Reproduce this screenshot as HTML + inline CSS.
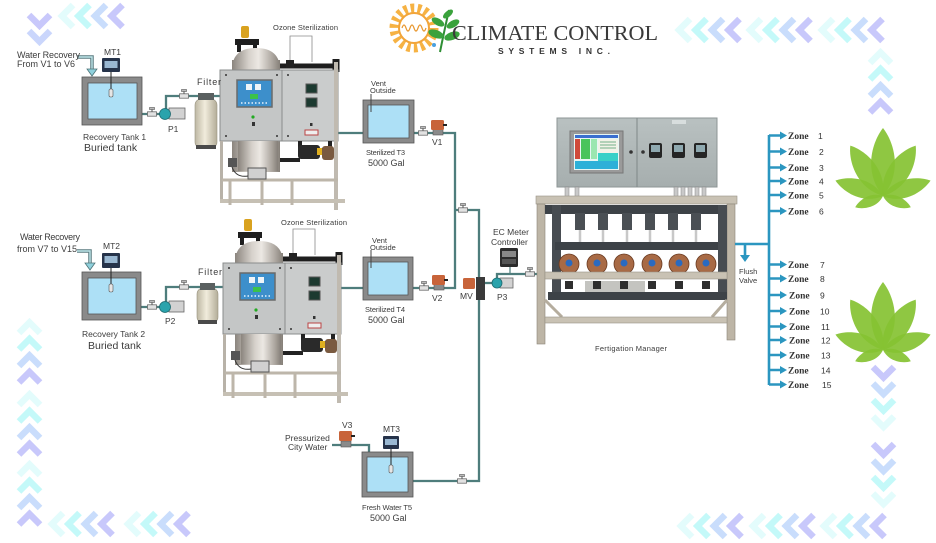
<!DOCTYPE html>
<html><head><meta charset="utf-8"><style>
html,body{margin:0;padding:0;background:#fff;}
svg{display:block}
text{font-family:"Liberation Sans",sans-serif;fill:#3c3c3c}
.z{font-family:"Liberation Serif",serif;font-weight:bold;font-size:9.5px;fill:#333}
.n{font-size:8.5px;fill:#333}
</style></head><body>
<svg width="936" height="543" viewBox="0 0 936 543" xmlns="http://www.w3.org/2000/svg">
<defs>
 <linearGradient id="steel" x1="0" x2="1" y1="0" y2="0">
  <stop offset="0" stop-color="#8b857e"/><stop offset="0.35" stop-color="#d6d1cb"/>
  <stop offset="0.55" stop-color="#ece8e3"/><stop offset="0.85" stop-color="#aba59e"/>
  <stop offset="1" stop-color="#857f78"/>
 </linearGradient>
 <linearGradient id="filt" x1="0" x2="1" y1="0" y2="0">
  <stop offset="0" stop-color="#bdb7a3"/><stop offset="0.45" stop-color="#f1ecdc"/>
  <stop offset="1" stop-color="#b3ad99"/>
 </linearGradient>
 <linearGradient id="boxg" x1="0" x2="0" y1="0" y2="1">
  <stop offset="0" stop-color="#b9c1c1"/><stop offset="1" stop-color="#a6aeae"/>
 </linearGradient>
 <g id="cl" fill="none" stroke-width="6.5">
  <polyline points="13,2 2,13 13,24" stroke="#e3fcfc"/>
  <polyline points="29.5,2 18.5,13 29.5,24" stroke="#c4f9f9"/>
  <polyline points="46,2 35,13 46,24" stroke="#c9ddfc"/>
  <polyline points="62.5,2 51.5,13 62.5,24" stroke="#c8c8fb"/>
 </g>
 <g id="cu" fill="none" stroke-width="6.5">
  <polyline points="2,13 12.5,2.5 23,13" stroke="#e3fcfc"/>
  <polyline points="2,29.5 12.5,19 23,29.5" stroke="#c4f9f9"/>
  <polyline points="2,46 12.5,35.5 23,46" stroke="#c9ddfc"/>
  <polyline points="2,62.5 12.5,52 23,62.5" stroke="#c8c8fb"/>
 </g>
 <g id="cd" fill="none" stroke-width="6.5">
  <polyline points="2,2 12.5,12.5 23,2" stroke="#c8c8fb"/>
  <polyline points="2,18.5 12.5,29 23,18.5" stroke="#c9ddfc"/>
  <polyline points="2,35 12.5,45.5 23,35" stroke="#c4f9f9"/>
  <polyline points="2,51.5 12.5,62 23,51.5" stroke="#e3fcfc"/>
 </g>
 <g id="valve">
  <rect x="-4.5" y="-2.2" width="9" height="4.4" fill="#e2e2e2" stroke="#6a6a6a" stroke-width="0.8"/>
  <path d="M0 -2.2 V-5" stroke="#555" stroke-width="1"/>
  <rect x="-2.5" y="-6.5" width="5" height="2" fill="#bbb" stroke="#555" stroke-width="0.6"/>
 </g>
 <g id="leaf" fill="#86c232" fill-opacity="0.92">
  <path d="M0 0 C20 -24 11 -54 0 -68 C-11 -54 -20 -24 0 0Z"/>
  <path transform="rotate(33)" d="M0 0 C18 -21 10 -48 0 -60 C-10 -48 -18 -21 0 0Z"/>
  <path transform="rotate(-33)" d="M0 0 C18 -21 10 -48 0 -60 C-10 -48 -18 -21 0 0Z"/>
  <path transform="rotate(72)" d="M0 0 C15 -17 8 -40 0 -50 C-8 -40 -15 -17 0 0Z"/>
  <path transform="rotate(-72)" d="M0 0 C15 -17 8 -40 0 -50 C-8 -40 -15 -17 0 0Z"/>
  <path transform="rotate(112)" d="M0 0 C9 -10 5 -24 0 -30 C-5 -24 -9 -10 0 0Z"/>
  <path transform="rotate(-112)" d="M0 0 C9 -10 5 -24 0 -30 C-5 -24 -9 -10 0 0Z"/>
 </g>
 <g id="ozone">
  <rect x="241" y="26" width="8" height="12" rx="2" fill="#d9a21f"/>
  <path d="M235 42 h24" stroke="#1e1e1e" stroke-width="6"/>
  <path d="M239 42 v10 M255 42 v10" stroke="#1e1e1e" stroke-width="4"/>
  <path d="M232 70 Q232 48 256 48 Q280 48 280 70 Z" fill="url(#steel)"/>
  <rect x="232" y="60" width="48" height="112" fill="url(#steel)"/>
  <path d="M280 66 H338" stroke="#1e1e1e" stroke-width="5"/>
  <path d="M336 59 v13" stroke="#1e1e1e" stroke-width="7"/>
  <rect x="286" y="60" width="8" height="8" fill="#222"/>
  <path d="M290 60 V36 H312 V62" stroke="#8a8a8a" stroke-width="0.8" fill="none"/>
  <rect x="220" y="70" width="62" height="71" fill="#c4c6c6" stroke="#8a8c8c"/>
  <rect x="282" y="70" width="56" height="71" fill="#cacccc" stroke="#8a8c8c"/>
  <rect x="237" y="80" width="35" height="27" fill="#3d8fcb" stroke="#6a6a6a" stroke-width="1.5"/>
  <rect x="246" y="84" width="6" height="6" fill="#eef4f8"/><rect x="255" y="84" width="6" height="6" fill="#eef4f8"/>
  <rect x="250" y="94" width="8" height="5" fill="#3bc24a"/>
  <path d="M241 103 H268" stroke="#e8f4ff" stroke-width="1.5" stroke-dasharray="1.5 2"/>
  <circle cx="253" cy="117" r="1.6" fill="#2a2"/>
  <rect x="252" y="122" width="3" height="4" fill="#333"/>
  <rect x="306" y="84" width="11" height="9" fill="#1c3a30" stroke="#555"/>
  <rect x="306" y="98" width="11" height="9" fill="#1c3a30" stroke="#555"/>
  <rect x="310" y="123" width="2.5" height="3" fill="#333"/>
  <rect x="305" y="130" width="13" height="5" fill="#eee" stroke="#b44"/>
  <g fill="#333"><circle cx="226" cy="75" r="1"/><circle cx="277" cy="75" r="1"/><circle cx="226" cy="136" r="1"/><circle cx="277" cy="136" r="1"/><circle cx="288" cy="75" r="1"/><circle cx="288" cy="136" r="1"/></g>
  <rect x="238" y="141" width="40" height="30" fill="url(#steel)"/>
  <rect x="220" y="141" width="3" height="62" fill="#b8b2a8"/>
  <rect x="334" y="62" width="4" height="148" fill="#c0bab0"/>
  <path d="M222 180 H338" stroke="#bdb6aa" stroke-width="3"/>
  <path d="M220 201 H345" stroke="#c6c0b4" stroke-width="4"/>
  <path d="M230 180 V205 M262 180 V205 M292 180 V205" stroke="#bdb6aa" stroke-width="3"/>
  <path d="M300 141 V150 H330 V141" stroke="#222" stroke-width="4" fill="none"/>
  <rect x="298" y="145" width="22" height="14" rx="3" fill="#2a2a2a"/>
  <rect x="317" y="148" width="5" height="7" fill="#e0b020"/>
  <rect x="322" y="146" width="12" height="14" rx="3" fill="#7a5a40"/>
  <path d="M280 160 H300" stroke="#222" stroke-width="4"/>
  <rect x="248" y="168" width="18" height="11" fill="#d0d0d0" stroke="#555"/>
  <rect x="228" y="158" width="9" height="9" fill="#555"/>
  <path d="M232 167 Q236 178 248 176" stroke="#333" fill="none"/>
 </g>
</defs>

<!-- decorative chevrons -->
<use href="#cl" x="60" y="3"/>
<use href="#cl" x="677" y="17"/><use href="#cl" x="748" y="17"/><use href="#cl" x="820" y="17"/>
<use href="#cl" x="50" y="511"/><use href="#cl" x="126" y="511"/>
<use href="#cl" x="679" y="513"/><use href="#cl" x="751" y="513"/><use href="#cl" x="822" y="513"/>
<use href="#cu" x="17" y="320"/><use href="#cu" x="17" y="392"/><use href="#cu" x="17" y="462"/>
<use href="#cu" x="868" y="50"/>
<use href="#cd" x="871" y="365"/><use href="#cd" x="871" y="442"/>
<g fill="none" stroke-width="6.5">
 <polyline points="29,15 39.5,25.5 50,15" stroke="#c8c8fb"/>
 <polyline points="29,31 39.5,41.5 50,31" stroke="#cad6fc"/>
</g>

<!-- logo -->
<circle cx="414" cy="28" r="20" fill="none" stroke="#f6b243" stroke-width="9" stroke-dasharray="3.6 3.38"/>
<circle cx="414" cy="28" r="15" fill="#fff" stroke="#f2a53a" stroke-width="2"/>
<path d="M402 28 q2 -6 4 0 t4 0 t4 0 t4 0 t4 0 t4 0" stroke="#e8962c" stroke-width="1.2" fill="none"/>
<path d="M440 52 Q444 32 449 10" stroke="#2f8f35" stroke-width="2" fill="none"/>
<g fill="#3aa23c">
 <ellipse cx="448" cy="14" rx="6" ry="3" transform="rotate(-40 448 14)"/>
 <ellipse cx="438" cy="22" rx="7" ry="3.5" transform="rotate(30 438 22)"/>
 <ellipse cx="453" cy="24" rx="7" ry="3.5" transform="rotate(-30 453 24)"/>
 <ellipse cx="436" cy="34" rx="8" ry="4" transform="rotate(20 436 34)"/>
 <ellipse cx="452" cy="36" rx="8" ry="4" transform="rotate(-20 452 36)"/>
</g>
<circle cx="434" cy="45" r="2" fill="#4aa0e0"/>
<text x="452" y="40" style="font-family:'Liberation Serif',serif;font-size:21px;fill:#3a3a3a" textLength="206" lengthAdjust="spacingAndGlyphs">CLIMATE CONTROL</text>
<text x="498" y="54" style="font-size:8.5px;font-weight:bold;fill:#333" textLength="112" lengthAdjust="spacing">SYSTEMS INC.</text>

<!-- pipes -->
<g stroke="#4e7d7c" stroke-width="2.3" fill="none">
 <path d="M142 114 H160"/>
 <path d="M166 109 V96 H228"/>
 <path d="M338 133 H363"/>
 <path d="M414 133 H455 V288 H413"/>
 <path d="M455 210 H479 V481 H413"/>
 <path d="M485 283 H493"/>
 <path d="M497 278 V274 H540"/>
 <path d="M332 445 H369 V452"/>
 <path d="M141 307 H160"/>
 <path d="M166 302 V287 H226"/>
 <path d="M341 288 H363"/>
 <path d="M510 267 V274" stroke-width="1.2"/>
</g>
<g fill="none" stroke-linejoin="miter">
 <path d="M77 57 H92 V70" stroke="#5c7c80" stroke-width="3.5"/>
 <path d="M77 57 H92 V70" stroke="#bfe6ea" stroke-width="1.4"/>
 <path d="M77 251 H90 V264" stroke="#5c7c80" stroke-width="3.5"/>
 <path d="M77 251 H90 V264" stroke="#bfe6ea" stroke-width="1.4"/>
</g>
<polygon points="87,69 97,69 92,76" fill="#8fd0dc" stroke="#4f7478" stroke-width="0.8"/>
<polygon points="85,263 95,263 90,270" fill="#8fd0dc" stroke="#4f7478" stroke-width="0.8"/>

<!-- valves -->
<use href="#valve" x="423" y="133"/><use href="#valve" x="424" y="288"/>
<use href="#valve" x="463" y="210"/><use href="#valve" x="462" y="481"/>
<use href="#valve" x="152" y="114"/><use href="#valve" x="184" y="96"/>
<use href="#valve" x="152" y="307"/><use href="#valve" x="184" y="287"/>
<use href="#valve" x="530" y="274"/>

<!-- tanks -->
<g stroke="#555" stroke-width="0.8">
 <rect x="82" y="77" width="60" height="48" fill="#8a8a8a"/>
 <rect x="88" y="83" width="49" height="36" fill="#ade0f6"/>
 <rect x="82" y="272" width="59" height="48" fill="#8a8a8a"/>
 <rect x="88" y="278" width="48" height="36" fill="#ade0f6"/>
 <rect x="363" y="100" width="51" height="43" fill="#8a8a8a"/>
 <rect x="368" y="105" width="41" height="33" fill="#ade0f6"/>
 <rect x="363" y="257" width="50" height="43" fill="#8a8a8a"/>
 <rect x="368" y="262" width="40" height="33" fill="#ade0f6"/>
 <rect x="362" y="452" width="51" height="45" fill="#8a8a8a"/>
 <rect x="367" y="457" width="41" height="35" fill="#ade0f6"/>
</g>
<path d="M371 94 V112 M371 250 V268" stroke="#444" stroke-width="1"/>
<g>
 <rect x="102" y="58" width="18" height="14" rx="1" fill="#26334a"/>
 <rect x="104.5" y="61" width="13" height="7" fill="#9ab8d2"/>
 <path d="M111 72 V90" stroke="#222" stroke-width="1"/>
 <rect x="109" y="89" width="4" height="8" rx="1.5" fill="#e6e6e6" stroke="#555" stroke-width="0.6"/>
 <rect x="102" y="253" width="18" height="15" rx="1" fill="#26334a"/>
 <rect x="104.5" y="256" width="13" height="7" fill="#9ab8d2"/>
 <path d="M111 268 V285" stroke="#222" stroke-width="1"/>
 <rect x="109" y="284" width="4" height="8" rx="1.5" fill="#e6e6e6" stroke="#555" stroke-width="0.6"/>
 <rect x="383" y="436" width="16" height="13" rx="1" fill="#26334a"/>
 <rect x="385" y="439" width="12" height="6" fill="#9ab8d2"/>
 <path d="M391 449 V466" stroke="#222" stroke-width="1"/>
 <rect x="389" y="465" width="4" height="8" rx="1.5" fill="#e6e6e6" stroke="#555" stroke-width="0.6"/>
 <rect x="500" y="248" width="18" height="19" rx="1.5" fill="#2c2c2c"/>
 <rect x="502" y="251" width="14" height="6" fill="#888"/>
 <rect x="502" y="259" width="14" height="5" fill="#555"/>
</g>
<g>
 <rect x="169" y="108" width="16" height="11" fill="#d2d2d2" stroke="#666" stroke-width="0.8"/>
 <circle cx="165" cy="114" r="5.5" fill="#2aa3ac" stroke="#1d6a70" stroke-width="0.8"/>
 <rect x="169" y="301" width="15" height="11" fill="#d2d2d2" stroke="#666" stroke-width="0.8"/>
 <circle cx="165" cy="307" r="5.5" fill="#2aa3ac" stroke="#1d6a70" stroke-width="0.8"/>
 <rect x="500" y="278" width="13" height="10" fill="#d2d2d2" stroke="#666" stroke-width="0.8"/>
 <circle cx="497" cy="283" r="5" fill="#2aa3ac" stroke="#1d6a70" stroke-width="0.8"/>
</g>
<g>
 <rect x="433" y="129" width="10" height="6" fill="#8a8a8a" stroke="#555" stroke-width="0.6"/>
 <rect x="431" y="120" width="13" height="10" rx="1.5" fill="#c8643a"/>
 <rect x="443" y="124" width="4" height="2" fill="#222"/>
 <rect x="434" y="284" width="10" height="6" fill="#8a8a8a" stroke="#555" stroke-width="0.6"/>
 <rect x="432" y="275" width="13" height="10" rx="1.5" fill="#c8643a"/>
 <rect x="444" y="279" width="4" height="2" fill="#222"/>
 <rect x="463" y="278" width="12" height="11" rx="1.5" fill="#c8643a"/>
 <rect x="476" y="277" width="9" height="23" fill="#3a3a3a"/>
 <rect x="341" y="441" width="10" height="6" fill="#8a8a8a" stroke="#555" stroke-width="0.6"/>
 <rect x="339" y="431" width="13" height="10" rx="1.5" fill="#c8643a"/>
 <rect x="351" y="435" width="4" height="2" fill="#222"/>
</g>
<rect x="195" y="99" width="22" height="49" rx="6" fill="url(#filt)" stroke="#9a9480" stroke-width="0.6"/>
<rect x="198" y="93" width="16" height="7" fill="#5a6060"/>
<rect x="196" y="145" width="20" height="4" fill="#4a4a4a"/>
<rect x="197" y="288" width="21" height="35" rx="6" fill="url(#filt)" stroke="#9a9480" stroke-width="0.6"/>
<rect x="200" y="283" width="15" height="7" fill="#5a6060"/>
<rect x="198" y="320" width="19" height="4" fill="#4a4a4a"/>

<use href="#ozone"/>
<use href="#ozone" transform="translate(3,193)"/>

<!-- fertigation manager -->
<g>
 <rect x="557" y="118" width="160" height="69" fill="url(#boxg)" stroke="#8d9595"/>
 <line x1="637" y1="118" x2="637" y2="187" stroke="#7f8888"/>
 <rect x="570" y="131" width="53" height="42" fill="#9a9a9a" stroke="#777"/>
 <rect x="574" y="134" width="45" height="36" fill="#e6f6f4"/>
 <rect x="575" y="135" width="43" height="3" fill="#3a6fd0"/>
 <rect x="575" y="139" width="5" height="20" fill="#d04a3a"/>
 <rect x="581" y="139" width="9" height="20" fill="#49c45c"/>
 <rect x="591" y="139" width="6" height="20" fill="#9be6b0"/>
 <rect x="598" y="139" width="20" height="14" fill="#f2f2e8"/>
 <path d="M600 142 H616 M600 145 H616 M600 148 H616" stroke="#4a9a6a" stroke-width="0.8"/>
 <rect x="598" y="153" width="20" height="8" fill="#38d0c8"/>
 <rect x="575" y="161" width="43" height="8" fill="#2db0d8"/>
 <circle cx="631" cy="152" r="1.8" fill="#333"/><circle cx="643" cy="152" r="1.8" fill="#333"/>
 <rect x="649" y="143" width="13" height="15" rx="2" fill="#252525"/><rect x="651" y="145" width="9" height="7" fill="#8fa9b0"/>
 <rect x="672" y="143" width="13" height="15" rx="2" fill="#252525"/><rect x="674" y="145" width="9" height="7" fill="#8fa9b0"/>
 <rect x="694" y="143" width="13" height="15" rx="2" fill="#252525"/><rect x="696" y="145" width="9" height="7" fill="#8fa9b0"/>
 <rect x="672" y="120" width="14" height="4" fill="#d8dede"/>
 <g fill="#c9c9c9" stroke="#888" stroke-width="0.5">
  <rect x="565" y="187" width="4" height="10"/><rect x="575" y="187" width="4" height="10"/>
  <rect x="674" y="187" width="4" height="10"/><rect x="681" y="187" width="4" height="10"/><rect x="688" y="187" width="4" height="10"/><rect x="695" y="187" width="4" height="10"/><rect x="702" y="187" width="4" height="10"/>
 </g>
 <rect x="536" y="196" width="201" height="8" fill="#c9c2b4" stroke="#9a9388" stroke-width="0.6"/>
 <rect x="537" y="204" width="8" height="140" fill="#bdb5a6" stroke="#8c8578" stroke-width="0.6"/>
 <rect x="727" y="204" width="8" height="136" fill="#bdb5a6" stroke="#8c8578" stroke-width="0.6"/>
 <rect x="545" y="205" width="182" height="9" fill="#3d4247"/>
 <rect x="552" y="205" width="9" height="95" fill="#474c51"/>
 <rect x="718" y="205" width="9" height="95" fill="#474c51"/>
 <g fill="#4a4f54">
  <rect x="575" y="213" width="10" height="17"/><rect x="598" y="213" width="10" height="17"/><rect x="622" y="213" width="10" height="17"/>
  <rect x="645" y="213" width="10" height="17"/><rect x="668" y="213" width="10" height="17"/><rect x="691" y="213" width="10" height="17"/>
 </g>
 <g stroke="#c8c8c8" stroke-width="2.5">
  <path d="M580 230 V243 M603 230 V243 M627 230 V243 M650 230 V243 M673 230 V243 M696 230 V243"/>
 </g>
 <rect x="555" y="242" width="163" height="8" fill="#3d4247"/>
 <g fill="#a86a45" stroke="#6a3a20" stroke-width="0.8">
  <circle cx="569" cy="264" r="10"/><circle cx="597" cy="264" r="10"/><circle cx="624" cy="264" r="10"/>
  <circle cx="652" cy="264" r="10"/><circle cx="679" cy="264" r="10"/><circle cx="706" cy="264" r="10"/>
 </g>
 <g fill="#2a6ac0">
  <circle cx="569" cy="263" r="3.5"/><circle cx="597" cy="263" r="3.5"/><circle cx="624" cy="263" r="3.5"/>
  <circle cx="652" cy="263" r="3.5"/><circle cx="679" cy="263" r="3.5"/><circle cx="706" cy="263" r="3.5"/>
 </g>
 <rect x="545" y="272" width="182" height="7" fill="#c9c2b4" stroke="#9a9388" stroke-width="0.6"/>
 <rect x="585" y="281" width="60" height="14" fill="#c4c4c0"/>
 <g fill="#2e2e2e">
  <rect x="565" y="281" width="8" height="8"/><rect x="593" y="281" width="8" height="8"/><rect x="620" y="281" width="8" height="8"/>
  <rect x="648" y="281" width="8" height="8"/><rect x="675" y="281" width="8" height="8"/><rect x="702" y="281" width="8" height="8"/>
 </g>
 <rect x="548" y="292" width="179" height="8" fill="#3d4247"/>
 <path d="M545 300 L562 317 M727 300 L712 317" stroke="#b5ad9e" stroke-width="3"/>
 <rect x="545" y="317" width="182" height="6" fill="#c9c2b4" stroke="#9a9388" stroke-width="0.6"/>
</g>

<!-- zones -->
<g stroke="#2b96c0" stroke-width="2.6" fill="none">
 <path d="M735 244 H769"/>
 <path d="M769 135 V385"/>
 <path d="M745 244 V256"/>
 <path d="M769 135.5 H781 M769 151.5 H781 M769 167.5 H781 M769 181 H781 M769 195 H781 M769 211 H781 M769 264.5 H781 M769 278.5 H781 M769 295 H781 M769 311 H781 M769 326.5 H781 M769 340 H781 M769 355 H781 M769 370 H781 M769 384.5 H781"/>
</g>
<polygon points="740,255 750,255 745,262" fill="#2b96c0"/>
<g fill="#2b96c0">
 <polygon points="780,131.5 787,135.5 780,139.5"/><polygon points="780,147.5 787,151.5 780,155.5"/>
 <polygon points="780,163.5 787,167.5 780,171.5"/><polygon points="780,177 787,181 780,185"/>
 <polygon points="780,191 787,195 780,199"/><polygon points="780,207 787,211 780,215"/>
 <polygon points="780,260.5 787,264.5 780,268.5"/><polygon points="780,274.5 787,278.5 780,282.5"/>
 <polygon points="780,291 787,295 780,299"/><polygon points="780,307 787,311 780,315"/>
 <polygon points="780,322.5 787,326.5 780,330.5"/><polygon points="780,336 787,340 780,344"/>
 <polygon points="780,351 787,355 780,359"/><polygon points="780,366 787,370 780,374"/>
 <polygon points="780,380.5 787,384.5 780,388.5"/>
</g>
<text class="z" x="788" y="139">Zone</text><text class="n" x="818" y="139">1</text>
<text class="z" x="788" y="155">Zone</text><text class="n" x="819" y="155">2</text>
<text class="z" x="788" y="171">Zone</text><text class="n" x="819" y="171">3</text>
<text class="z" x="788" y="184.5">Zone</text><text class="n" x="819" y="184.5">4</text>
<text class="z" x="788" y="198.5">Zone</text><text class="n" x="819" y="198.5">5</text>
<text class="z" x="788" y="214.5">Zone</text><text class="n" x="819" y="214.5">6</text>
<text class="z" x="788" y="268">Zone</text><text class="n" x="820" y="268">7</text>
<text class="z" x="788" y="282">Zone</text><text class="n" x="820" y="282">8</text>
<text class="z" x="789" y="298.5">Zone</text><text class="n" x="820" y="298.5">9</text>
<text class="z" x="789" y="314.5">Zone</text><text class="n" x="820" y="314.5">10</text>
<text class="z" x="789" y="330">Zone</text><text class="n" x="821" y="330">11</text>
<text class="z" x="789" y="343.5">Zone</text><text class="n" x="821" y="343.5">12</text>
<text class="z" x="789" y="358.5">Zone</text><text class="n" x="821" y="358.5">13</text>
<text class="z" x="788" y="373.5">Zone</text><text class="n" x="821" y="373.5">14</text>
<text class="z" x="788" y="388">Zone</text><text class="n" x="822" y="388">15</text>

<use href="#leaf" transform="translate(883,196)"/>
<use href="#leaf" transform="translate(883,350)"/>

<!-- labels -->
<g style="font-size:9px">
 <text x="17" y="58" textLength="63">Water Recovery</text>
 <text x="17" y="67">From V1 to V6</text>
 <text x="20" y="240" textLength="60">Water Recovery</text>
 <text x="17" y="252">from V7 to V15</text>
 <text x="197" y="85" letter-spacing="0.8">Filter</text>
 <text x="198" y="275" letter-spacing="0.8">Filter</text>
 <text x="368" y="166">5000 Gal</text>
 <text x="368" y="323">5000 Gal</text>
 <text x="370" y="521">5000 Gal</text>
</g>
<g style="font-size:8.5px">
 <text x="104" y="55">MT1</text>
 <text x="103" y="249">MT2</text>
 <text x="383" y="432">MT3</text>
 <text x="83" y="140">Recovery Tank  1</text>
 <text x="82" y="337">Recovery Tank  2</text>
 <text x="168" y="132">P1</text>
 <text x="165" y="324">P2</text>
 <text x="432" y="145">V1</text>
 <text x="432" y="301">V2</text>
 <text x="460" y="299">MV</text>
 <text x="497" y="300">P3</text>
 <text x="342" y="428">V3</text>
 <text x="493" y="235">EC Meter</text>
 <text x="491" y="245">Controller</text>
 <text x="285" y="441">Pressurized</text>
 <text x="288" y="450">City Water</text>
</g>
<g style="font-size:10.5px">
 <text x="84" y="151">Buried tank</text>
 <text x="88" y="349">Buried tank</text>
</g>
<g style="font-size:7.5px">
 <text x="273" y="30" textLength="65">Ozone Sterilization</text>
 <text x="281" y="225" textLength="66">Ozone Sterilization</text>
 <text x="371" y="86">Vent</text><text x="370" y="93">Outside</text>
 <text x="372" y="243">Vent</text><text x="370" y="250">Outside</text>
 <text x="366" y="155" textLength="39">Sterilized T3</text>
 <text x="365" y="312" textLength="40">Sterilized T4</text>
 <text x="362" y="510" textLength="50">Fresh Water T5</text>
 <text x="595" y="351" textLength="72">Fertigation Manager</text>
 <text x="739" y="274">Flush</text>
 <text x="739" y="283">Valve</text>
</g>
</svg>
</body></html>
